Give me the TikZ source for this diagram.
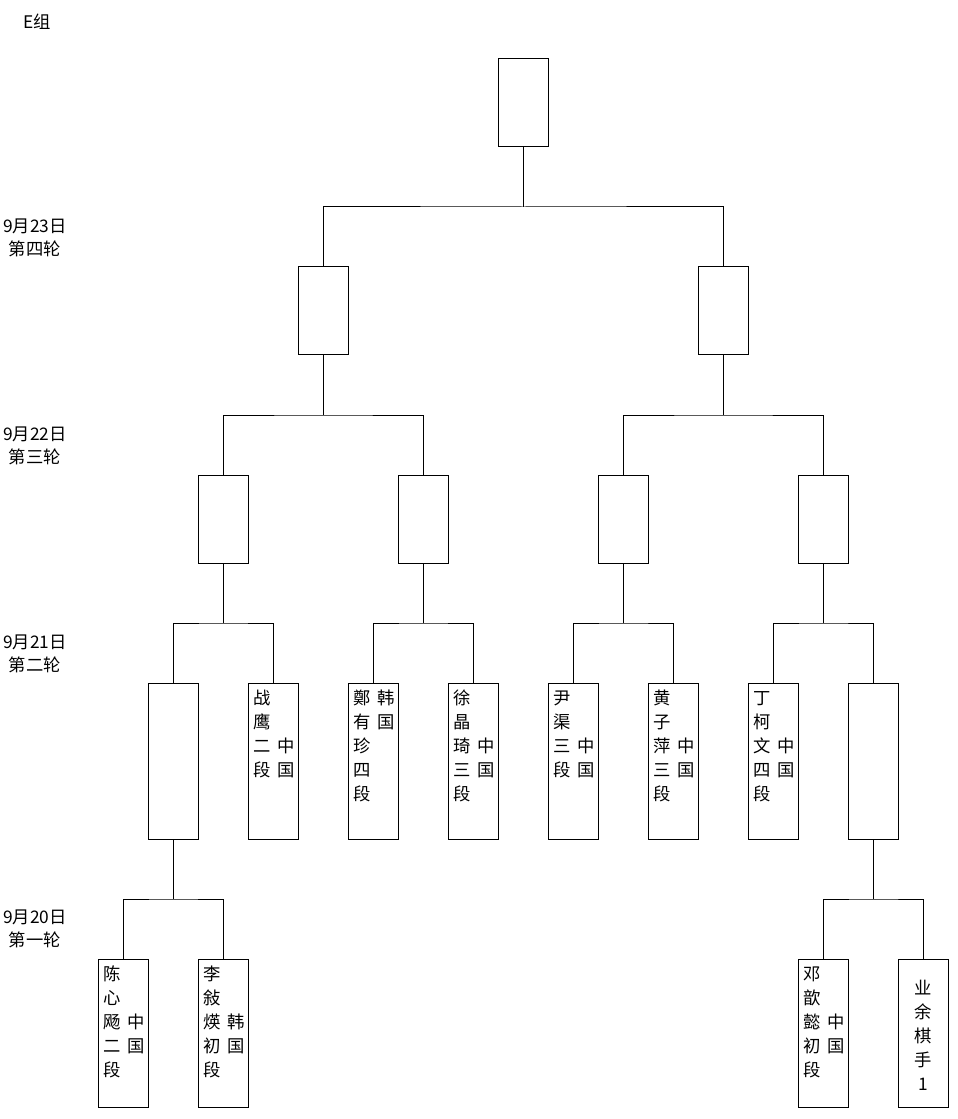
\documentclass[tikz,border=0pt]{standalone}
\usepackage{fontspec}
\setmainfont{Noto Sans CJK SC}
\newfontfamily\cjk{Noto Sans CJK SC}
\newcommand\cstr{\rule{0pt}{0.88em}}
\begin{document}
\begin{tikzpicture}[x=0.75pt,y=-0.75pt,
  box/.style={draw,rectangle,line width=0.75pt,inner sep=0pt,outer sep=0pt,minimum width=37.5pt},
  bs/.style={box,minimum height=66pt},
  bl/.style={box,minimum height=117pt},
  bf/.style={box,minimum height=111pt},
  col/.style={inner sep=0pt,outer sep=0pt,anchor=north,align=center,font=\cjk\fontsize{13pt}{18pt}\selectfont},
  lbl/.style={inner sep=0pt,align=center,font=\cjk\fontsize{13pt}{17.5pt}\selectfont},
  wire/.style={line width=0.75pt}]
\useasboundingbox (0,0) rectangle (957,1119);
% labels
\node[lbl] (tE) at (37,22) {E组};
\node[lbl] (d4) at (35,238) {9月23日\\第四轮};
\node[lbl] (d3) at (35,446) {9月22日\\第三轮};
\node[lbl] (d2) at (35,654) {9月21日\\第二轮};
\node[lbl] (d1) at (35,929) {9月20日\\第一轮};
% boxes
\node[bs] (top) at (523.5,103) {};
\node[bs] (q1) at (323.5,311) {};
\node[bs] (q2) at (723.5,311) {};
\node[bs] (s1) at (223.5,519) {};
\node[bs] (s2) at (423.5,519) {};
\node[bs] (s3) at (623.5,519) {};
\node[bs] (s4) at (823.5,519) {};
\node[bl] (e1) at (173.5,761) {};
\node[bl] (e2) at (273.5,761) {};
\node[bl] (e3) at (373.5,761) {};
\node[bl] (e4) at (473.5,761) {};
\node[bl] (e5) at (573.5,761) {};
\node[bl] (e6) at (673.5,761) {};
\node[bl] (e7) at (773.5,761) {};
\node[bl] (e8) at (873.5,761) {};
\node[bf] (f1) at (123.5,1033) {};
\node[bf] (f2) at (223.5,1033) {};
\node[bf] (f3) at (823.5,1033) {};
\node[bf] (f4) at (923.5,1033) {};
% junctions
\coordinate (j0) at (523.5,207);
\coordinate (j1) at (323.5,415);
\coordinate (j2) at (723.5,415);
\coordinate (k1) at (223.5,623);
\coordinate (k2) at (423.5,623);
\coordinate (k3) at (623.5,623);
\coordinate (k4) at (823.5,623);
\coordinate (m1) at (173.5,899);
\coordinate (m2) at (873.5,899);
% connectors
\draw[wire] (top.south) -- (j0);
\draw[wire] (q1.north) |- (j0) -| (q2.north);
\draw[wire] (q1.south) -- (j1);
\draw[wire] (s1.north) |- (j1) -| (s2.north);
\draw[wire] (q2.south) -- (j2);
\draw[wire] (s3.north) |- (j2) -| (s4.north);
\draw[wire] (s1.south) -- (k1);
\draw[wire] (e1.north) |- (k1) -| (e2.north);
\draw[wire] (s2.south) -- (k2);
\draw[wire] (e3.north) |- (k2) -| (e4.north);
\draw[wire] (s3.south) -- (k3);
\draw[wire] (e5.north) |- (k3) -| (e6.north);
\draw[wire] (s4.south) -- (k4);
\draw[wire] (e7.north) |- (k4) -| (e8.north);
\draw[wire] (e1.south) -- (m1);
\draw[wire] (f1.north) |- (m1) -| (f2.north);
\draw[wire] (e8.south) -- (m2);
\draw[wire] (f3.north) |- (m2) -| (f4.north);
% texts round 2
\node[col] (e2n) at (262,689) {\cstr 战\\鹰\\二\\段};
\node[col] (e2c) at (286,737) {\cstr 中\\国};
\node[col] (e3n) at (362,689) {\cstr 鄭\\有\\珍\\四\\段};
\node[col] (e3c) at (386,689) {\cstr 韩\\国};
\node[col] (e4n) at (462,689) {\cstr 徐\\晶\\琦\\三\\段};
\node[col] (e4c) at (486,737) {\cstr 中\\国};
\node[col] (e5n) at (562,689) {\cstr 尹\\渠\\三\\段};
\node[col] (e5c) at (586,737) {\cstr 中\\国};
\node[col] (e6n) at (662,689) {\cstr 黄\\子\\萍\\三\\段};
\node[col] (e6c) at (686,737) {\cstr 中\\国};
\node[col] (e7n) at (762,689) {\cstr 丁\\柯\\文\\四\\段};
\node[col] (e7c) at (786,737) {\cstr 中\\国};
% texts round 1
\node[col] (f1n) at (112,965) {\cstr 陈\\心\\飏\\二\\段};
\node[col] (f1c) at (136,1013) {\cstr 中\\国};
\node[col] (f2n) at (212,965) {\cstr 李\\敍\\煐\\初\\段};
\node[col] (f2c) at (236,1013) {\cstr 韩\\国};
\node[col] (f3n) at (812,965) {\cstr 邓\\歆\\懿\\初\\段};
\node[col] (f3c) at (836,1013) {\cstr 中\\国};
\node[col] (f4n) at (923.5,979) {\cstr 业\\余\\棋\\手\\1};
\end{tikzpicture}
\end{document}
